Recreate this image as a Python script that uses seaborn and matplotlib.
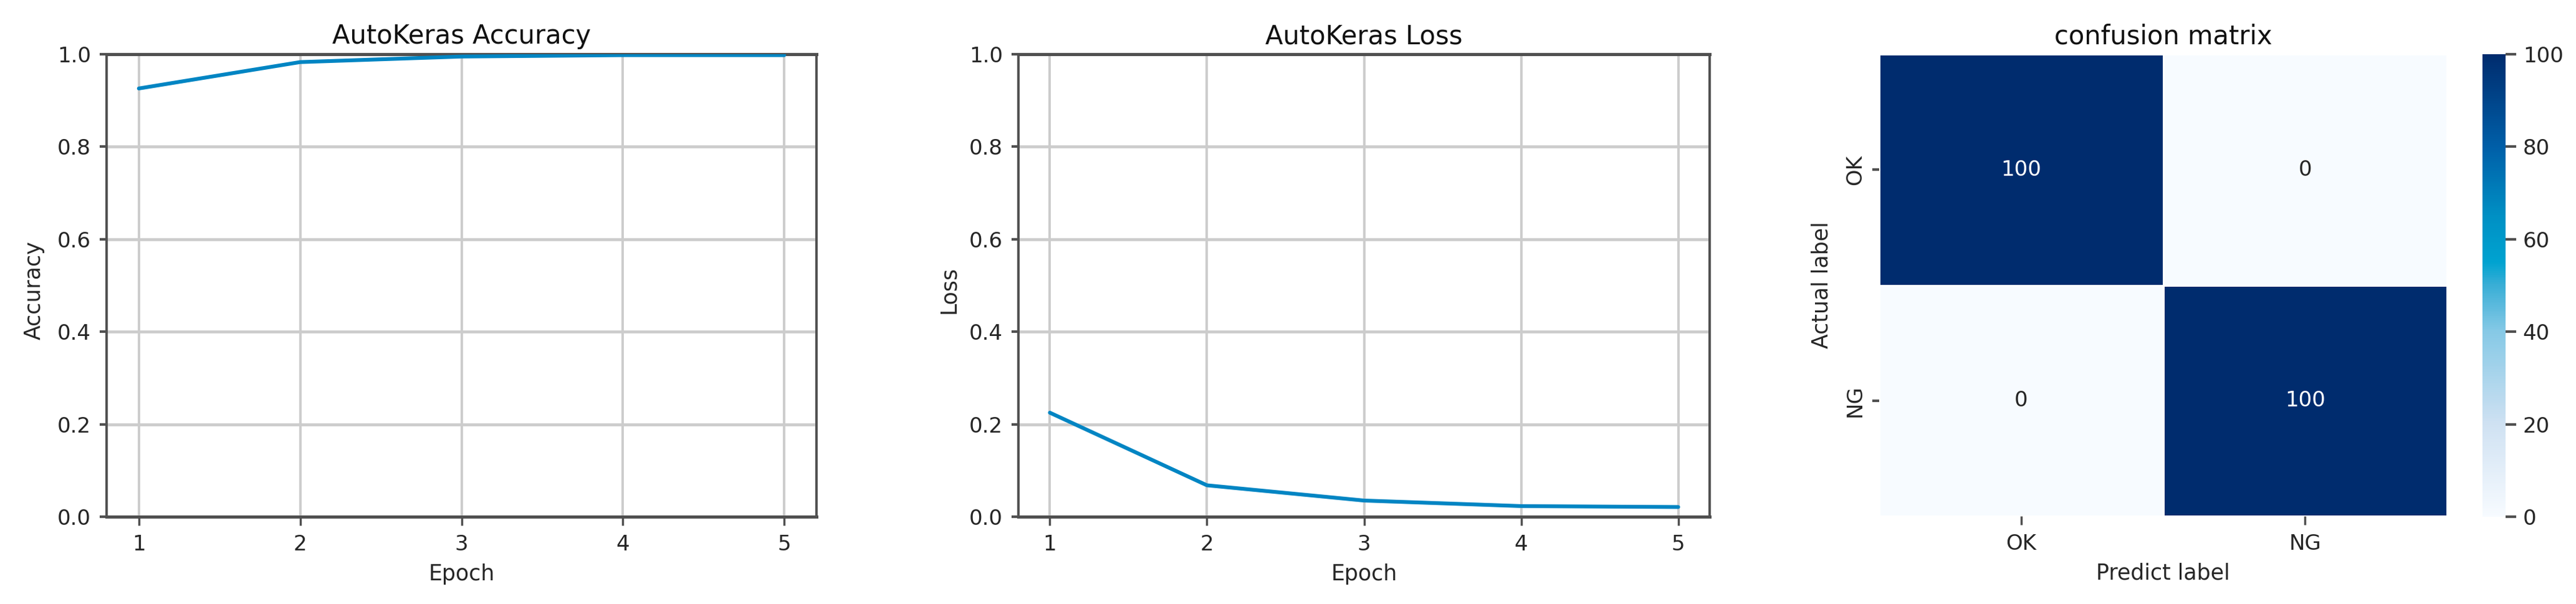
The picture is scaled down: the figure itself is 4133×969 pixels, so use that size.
import matplotlib
matplotlib.use('Agg')
import matplotlib.pyplot as plt
from matplotlib.colors import LinearSegmentedColormap
import seaborn as sns

epochs = [1, 2, 3, 4, 5]
accuracy = [0.926, 0.983, 0.995, 0.998, 0.998]
loss = [0.225, 0.068, 0.035, 0.023, 0.021]
y_ticks = [0.0, 0.2, 0.4, 0.6, 0.8, 1.0]
cm = [[100, 0], [0, 100]]
cm_labels = ['OK', 'NG']
cbar_ticks = [0, 20, 40, 60, 80, 100]

W, H = 4133, 969
LINE = '#0085c3'
GRID = '#cccccc'
SPINE = '#505050'
TEXT = '#262626'
TICK_FS = 24.5
TITLE_FS = 30
LABEL_FS = 25

sns.set_theme(style='white')
plt.rcParams['font.family'] = 'DejaVu Sans'

# colours
cmap = LinearSegmentedColormap.from_list('bar', [
    (0.0, '#f7fbff'), (0.2, '#cfe1f2'), (0.4, '#86c9e6'), (0.5, '#3aaed6'),
    (0.55, '#00a3d0'), (0.65, '#0090c4'), (0.8, '#005fa8'), (1.0, '#002c6e')])


def px_axes(fig, left, right, top, bottom):
    return fig.add_axes([left / W, 1 - bottom / H, (right - left) / W, (bottom - top) / H])


def curve_panel(ax, values, title, ylabel, ylabel_x):
    sns.lineplot(x=epochs, y=values, ax=ax, color=LINE, linewidth=4.4, zorder=3)
    ax.set_xlim(0.8, 5.2)
    ax.set_ylim(0, 1)
    ax.set_xticks(epochs)
    ax.set_yticks(y_ticks)
    ax.grid(axis='x', color=GRID, linewidth=2.8)
    ax.grid(axis='y', color=GRID, linewidth=3.4)
    ax.set_axisbelow(True)
    for s in ax.spines.values():
        s.set_visible(True)
        s.set_color(SPINE)
    ax.spines['left'].set_linewidth(2.8)
    ax.spines['right'].set_linewidth(2.8)
    ax.spines['top'].set_linewidth(3.6)
    ax.spines['bottom'].set_linewidth(3.6)
    ax.tick_params(axis='x', labelsize=TICK_FS, length=10, width=2.5, color=SPINE,
                   labelcolor=TEXT, bottom=True, pad=10)
    ax.tick_params(axis='y', labelsize=TICK_FS, length=8, width=3, color=SPINE,
                   labelcolor=TEXT, left=True, pad=10)
    ax.set_title(title, fontsize=TITLE_FS, color='#111111', pad=12)
    ax.set_xlabel('Epoch', fontsize=LABEL_FS, color=TEXT, labelpad=10)
    ax.set_ylabel(ylabel, fontsize=LABEL_FS, color=TEXT)
    ax.yaxis.set_label_coords(ylabel_x, 0.49)


fig = plt.figure(figsize=(W / 100, H / 100), dpi=100, facecolor='white')

ax1 = px_axes(fig, 171, 1310, 87, 829)
curve_panel(ax1, accuracy, 'AutoKeras Accuracy', 'Accuracy', -0.087)

ax2 = px_axes(fig, 1634, 2743, 87, 829)
curve_panel(ax2, loss, 'AutoKeras Loss', 'Loss', -0.086)

ax3 = px_axes(fig, 3015, 3926, 87, 828)
cax = px_axes(fig, 3983, 4020, 87, 829)
sns.heatmap(cm, annot=True, fmt='d', cmap=cmap, vmin=0, vmax=100, ax=ax3, cbar_ax=cax,
            xticklabels=cm_labels, yticklabels=cm_labels, linewidths=1, linecolor='white',
            annot_kws={'fontsize': TICK_FS})
ax3.tick_params(axis='x', labelsize=TICK_FS, length=10, width=2.5, color=SPINE,
                labelcolor=TEXT, bottom=True, pad=10)
ax3.tick_params(axis='y', labelsize=TICK_FS, length=8, width=3, color=SPINE,
                labelcolor=TEXT, left=True, pad=8, labelrotation=90)
for lab in ax3.get_yticklabels():
    lab.set_va('center')
ax3.set_title('confusion matrix', fontsize=TITLE_FS, color='#111111', pad=12)
ax3.set_xlabel('Predict label', fontsize=LABEL_FS, color=TEXT, labelpad=10)
ax3.set_ylabel('Actual label', fontsize=LABEL_FS, color=TEXT)
ax3.yaxis.set_label_coords(-0.083, 0.5)

cax.set_yticks(cbar_ticks)
cax.tick_params(axis='y', labelsize=TICK_FS, length=12, width=3, color=SPINE,
                labelcolor=TEXT, right=True, pad=8)

fig.savefig('out.png', dpi=100, facecolor='white')
